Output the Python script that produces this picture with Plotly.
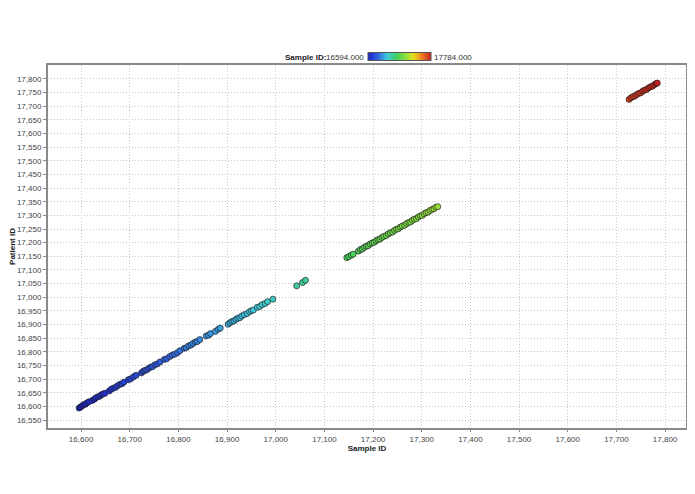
import plotly.graph_objects as go

# Data
sample_ids = [
    16596, 16599, 16602, 16605, 16609, 16612, 16616, 16623, 16627, 16630, 16634, 16638, 16641, 16645, 16649,
    16658, 16662, 16666, 16671, 16675, 16680, 16684, 16688,
    16697, 16702, 16708, 16713,
    16724, 16728, 16731, 16735, 16739, 16743, 16747, 16752, 16757, 16762,
    16771, 16776, 16782, 16787, 16792, 16798, 16803,
    16812, 16816, 16821, 16826, 16830, 16835, 16839, 16844,
    16857, 16862, 16866,
    16876, 16882, 16886,
    16902, 16906, 16910, 16914, 16918, 16922, 16926, 16930, 16935, 16941, 16946, 16950, 16954,
    16962, 16967, 16972, 16978, 16983,
    16994,
    17043, 17055, 17061,
    17146, 17150, 17155, 17159,
    17170, 17174, 17178, 17182, 17186, 17190, 17194, 17198, 17202, 17206, 17210, 17214, 17218, 17222,
    17227, 17231, 17235, 17240, 17244, 17248, 17252, 17256, 17260, 17265, 17269, 17273, 17277, 17281,
    17285, 17289, 17293, 17297, 17301, 17305, 17309, 17313, 17317, 17321, 17325, 17329, 17333,
    17726, 17730, 17734, 17738, 17742, 17746, 17750, 17754, 17758, 17762, 17766, 17770, 17774, 17778,
    17782, 17784,
]

patient_ids = [
    16594, 16598, 16602, 16606, 16608, 16613, 16617, 16622, 16626, 16631, 16635, 16637, 16642, 16646, 16648,
    16657, 16663, 16667, 16670, 16676, 16681, 16683, 16689,
    16698, 16701, 16709, 16714,
    16723, 16729, 16732, 16734, 16740, 16744, 16746, 16753, 16756, 16763,
    16772, 16775, 16783, 16788, 16791, 16797, 16804,
    16813, 16815, 16822, 16825, 16831, 16836, 16838, 16845,
    16858, 16861, 16867,
    16875, 16883, 16887,
    16901, 16907, 16911, 16913, 16919, 16923, 16925, 16931, 16936, 16940, 16947, 16951, 16953,
    16963, 16966, 16973, 16977, 16984,
    16993,
    17042, 17054, 17062,
    17145, 17149, 17154, 17158,
    17169, 17175, 17177, 17183, 17187, 17189, 17195, 17199, 17201, 17207, 17211, 17213, 17219, 17223,
    17226, 17232, 17236, 17239, 17245, 17249, 17251, 17257, 17261, 17264, 17270, 17274, 17276, 17282,
    17286, 17288, 17294, 17298, 17300, 17306, 17310, 17312, 17318, 17322, 17324, 17330, 17332,
    17725, 17731, 17735, 17737, 17743, 17747, 17749, 17755, 17759, 17761, 17767, 17771, 17773, 17779,
    17783, 17785,
]

x_ticks = list(range(16600, 17801, 100))
y_ticks = list(range(16550, 17801, 50))
color_min = 16594
color_max = 17784

colorscale = [
    [0.0, "#1f1fc8"],
    [0.15, "#2f5fe0"],
    [0.30, "#3fc8e0"],
    [0.45, "#3fd060"],
    [0.60, "#8fe03f"],
    [0.72, "#e6e020"],
    [0.86, "#f07a20"],
    [1.0, "#c82020"],
]

font_family = "Liberation Sans, Arial, sans-serif"

# The page body adds an 8px margin; figure coordinates are page coordinates minus 8.
OFF = 8
W, H = 695 - 2 * OFF, 494 - 2 * OFF
L, T = 48 - OFF, 65 - OFF
R = W - (686 - OFF)
B = H - (428 - OFF)
PW = W - L - R
PH = H - T - B


def px_x(p):
    return (p - OFF - L) / PW


def px_y(p):
    return (H - B - (p - OFF)) / PH


fig = go.Figure()
fig.add_trace(go.Scatter(
    x=sample_ids,
    y=patient_ids,
    mode="markers",
    marker=dict(
        size=6,
        color=sample_ids,
        cmin=color_min,
        cmax=color_max,
        colorscale=colorscale,
        line=dict(color="rgba(30,30,30,0.85)", width=0.8),
        colorbar=dict(
            orientation="h",
            lenmode="pixels",
            len=63,
            thickness=8,
            x=px_x(399),
            xanchor="center",
            y=px_y(57),
            yanchor="middle",
            ypad=0,
            xpad=0,
            showticklabels=False,
            ticks="",
            outlinewidth=1,
            outlinecolor="#555555",
        ),
    ),
    showlegend=False,
))

grid = dict(gridcolor="#c8c8c8", griddash="1px,2px", gridwidth=1)

fig.update_layout(
    width=W,
    height=H,
    margin=dict(l=L, r=R, t=T, b=B, autoexpand=False),
    paper_bgcolor="white",
    plot_bgcolor="white",
    font=dict(family=font_family, size=8, color="#333333"),
    xaxis=dict(
        range=[16532, 17843],
        tickvals=x_ticks,
        tickformat=",d",
        ticks="outside",
        ticklen=2,
        tickcolor="#888888",
        showline=True,
        linecolor="#8a8a8a",
        linewidth=2,
        mirror=True,
        zeroline=False,
        automargin=False,
        title=dict(text="<b>Sample ID</b>", font=dict(size=8, color="#222222"), standoff=0),
        tickfont=dict(size=8, color="#444444"),
        **grid,
    ),
    yaxis=dict(
        range=[16521, 17851],
        tickvals=y_ticks,
        tickformat=",d",
        ticks="outside",
        ticklen=3,
        tickcolor="#888888",
        showline=True,
        linecolor="#8a8a8a",
        linewidth=2,
        mirror=True,
        zeroline=False,
        automargin=False,
        title=dict(text="<b>Patient ID</b>", font=dict(size=8, color="#222222"), standoff=2),
        tickfont=dict(size=8, color="#444444"),
        **grid,
    ),
    annotations=[
        dict(text="<b>Sample ID:</b>", xref="paper", yref="paper",
             x=px_x(328), y=px_y(57), xanchor="right", yanchor="middle",
             showarrow=False, font=dict(size=8, color="#222222")),
        dict(text=f"{color_min:.3f}", xref="paper", yref="paper",
             x=px_x(366), y=px_y(57), xanchor="right", yanchor="middle",
             showarrow=False, font=dict(size=8, color="#333333")),
        dict(text=f"{color_max:.3f}", xref="paper", yref="paper",
             x=px_x(432), y=px_y(57), xanchor="left", yanchor="middle",
             showarrow=False, font=dict(size=8, color="#333333")),
    ],
)

fig.write_html("out.html")
